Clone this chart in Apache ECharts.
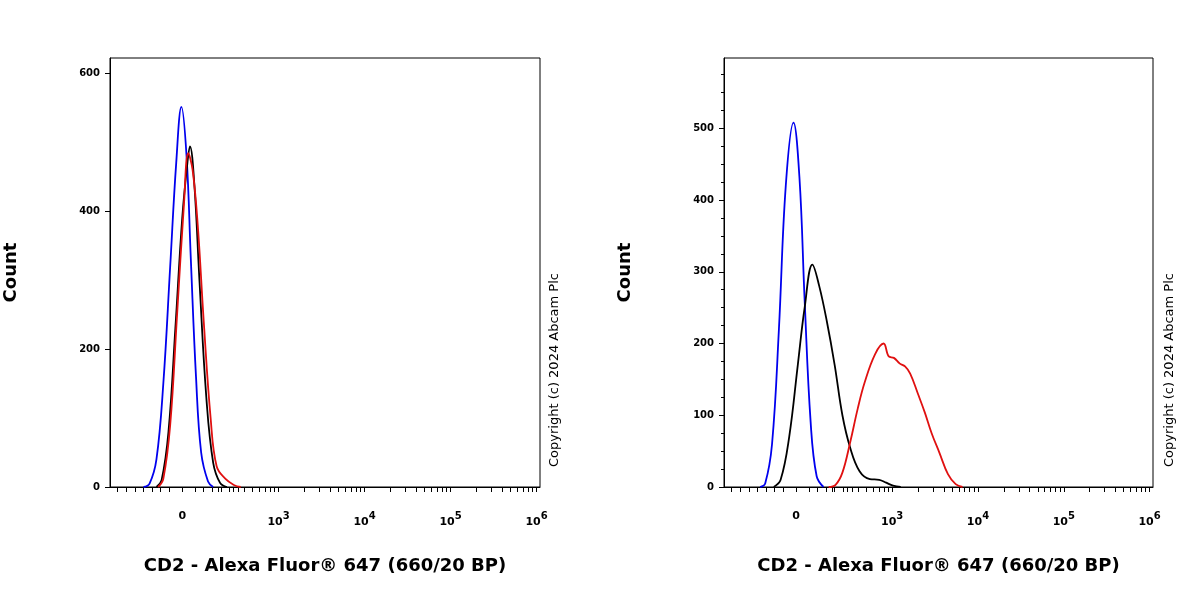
<!DOCTYPE html>
<html><head><meta charset="utf-8">
<script src="https://cdn.jsdelivr.net/npm/echarts@6/dist/echarts.min.js"></script>
<style>body{margin:0;background:#fff}#c{width:1200px;height:600px}</style>
</head><body><div id="c"></div>
<script>
// x in display units: one decade = 1, 0 at 0, 10^3 at 1.12
var decadeLabels = [[0, '0'], [1.12, '10{s|3}'], [2.12, '10{s|4}'], [3.12, '10{s|5}'], [4.12, '10{s|6}']];
var leftBlue = [[-0.45,0],[-0.38,5],[-0.3,40],[-0.22,150],[-0.14,320],[-0.07,470],[-0.01,551],[0.05,480],[0.1,330],[0.16,160],[0.22,50],[0.3,8],[0.36,0]];
var leftBlack = [[-0.3,0],[-0.24,10],[-0.16,80],[-0.08,230],[0,390],[0.06,470],[0.09,494],[0.14,440],[0.2,300],[0.28,130],[0.36,35],[0.44,6],[0.52,0]];
var leftRed = [[-0.28,0],[-0.22,12],[-0.14,90],[-0.06,250],[0.02,410],[0.07,484],[0.12,460],[0.18,380],[0.25,240],[0.33,100],[0.4,30],[0.5,12],[0.6,3],[0.68,0]];
var rightBlue = [[-0.42,0],[-0.36,5],[-0.28,60],[-0.2,220],[-0.12,420],[-0.03,508],[0.04,430],[0.1,260],[0.17,90],[0.24,15],[0.32,0]];
var rightBlack = [[-0.26,0],[-0.18,10],[-0.08,70],[0.02,170],[0.1,250],[0.19,310],[0.27,280],[0.36,230],[0.45,170],[0.54,100],[0.63,55],[0.74,22],[0.86,11],[0.97,10],[1.05,6],[1.13,2],[1.22,0]];
var rightRed = [[0.38,0],[0.46,3],[0.54,20],[0.63,62],[0.72,110],[0.8,146],[0.92,185],[1.02,200],[1.08,182],[1.14,180],[1.21,172],[1.27,168],[1.33,158],[1.42,130],[1.5,104],[1.58,75],[1.67,48],[1.77,18],[1.86,4],[1.94,0]];
var leftYTicks = [0, 200, 400, 600];
var rightYTicks = [0, 100, 200, 300, 400, 500];

var minorTicks = [];
[-0.75,-0.65,-0.55,-0.45,-0.35,-0.25,-0.15,0.15,0.25,0.35,0.45,0.55,0.65].forEach(function (v) { minorTicks.push(v); });
for (var k = 0; k < 4; k++) {
    for (var m = 2; m <= 9; m++) minorTicks.push(0.12 + k + Math.log10(m));
    minorTicks.push(1.12 + k);
}
minorTicks.push(0);
var font = '"DejaVu Sans", Verdana, sans-serif';

function xAxis(gi) {
    return {
        type: 'value', gridIndex: gi, min: -0.84, max: 4.16,
        name: 'CD2 - Alexa Fluor® 647 (660/20 BP)', nameLocation: 'middle', nameGap: 70,
        nameTextStyle: { fontFamily: font, fontWeight: 'bold', fontSize: 18, color: '#000' },
        axisLine: { onZero: false, lineStyle: { color: '#000', width: 1 } },
        splitLine: { show: false },
        axisTick: { customValues: minorTicks, length: 5, lineStyle: { color: '#000' } },
        axisLabel: {
            customValues: decadeLabels.map(function (d) { return d[0]; }),
            margin: 24, color: '#000', fontFamily: font, fontWeight: 'bold', fontSize: 11,
            formatter: function (v) {
                for (var i = 0; i < decadeLabels.length; i++) if (Math.abs(decadeLabels[i][0] - v) < 1e-6) return decadeLabels[i][1];
                return '';
            },
            rich: { s: { fontFamily: font, fontSize: 10, fontWeight: 'bold', verticalAlign: 'top', padding: [0, 0, 12, 0], color: '#000' } }
        }
    };
}
function yAxis(gi, max, ticks, minor) {
    return {
        type: 'value', gridIndex: gi, min: 0, max: max,
        name: 'Count', nameLocation: 'middle', nameGap: 90,
        nameTextStyle: { fontFamily: font, fontWeight: 'bold', fontSize: 18, color: '#000' },
        axisLine: { show: true, onZero: false, lineStyle: { color: '#000' } },
        splitLine: { show: false },
        axisTick: { customValues: ticks, length: 5, lineStyle: { color: '#000' } },
        minorTick: { show: minor, splitNumber: 4, length: 3, lineStyle: { color: '#000' } },
        axisLabel: { customValues: ticks, color: '#000', fontFamily: font, fontWeight: 'bold', fontSize: 10, margin: 10 }
    };
}
function line(data, color, xi) {
    return { type: 'line', xAxisIndex: xi, yAxisIndex: xi, data: data, smooth: 0.4, showSymbol: false,
        lineStyle: { color: color, width: 1.8 }, itemStyle: { color: color } };
}
var copyright = 'Copyright (c) 2024 Abcam Plc';
var chart = echarts.init(document.getElementById('c'));
chart.setOption({
    animation: false,
    grid: [
        { left: 110, width: 430, top: 58, bottom: 113, show: true, borderColor: '#000', borderWidth: 1 },
        { left: 724, width: 429, top: 58, bottom: 113, show: true, borderColor: '#000', borderWidth: 1 }
    ],
    xAxis: [xAxis(0), xAxis(1)],
    yAxis: [yAxis(0, 622, leftYTicks, false), yAxis(1, 598, rightYTicks, true)],
    series: [
        line(leftBlue, '#0000ee', 0), line(leftBlack, '#000', 0), line(leftRed, '#e01010', 0),
        line(rightBlue, '#0000ee', 1), line(rightBlack, '#000', 1), line(rightRed, '#e01010', 1)
    ],
    graphic: [
        { type: 'text', x: 555, y: 370, rotation: Math.PI / 2, style: { text: copyright, align: 'center', verticalAlign: 'middle', fontFamily: font, fontSize: 13, fill: '#000' } },
        { type: 'text', x: 1170, y: 370, rotation: Math.PI / 2, style: { text: copyright, align: 'center', verticalAlign: 'middle', fontFamily: font, fontSize: 13, fill: '#000' } }
    ]
});
</script></body></html>
